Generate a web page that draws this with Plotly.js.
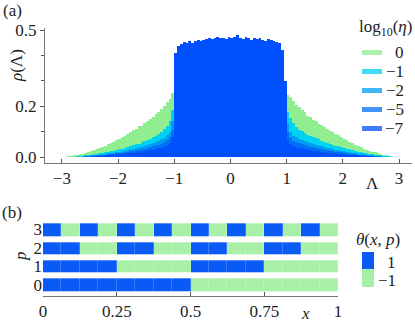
<!DOCTYPE html>
<html>
<head>
<meta charset="utf-8">
<script src="https://cdn.plot.ly/plotly-3.0.1.min.js"></script>
<style>html,body{margin:0;padding:0;background:#fff;}#chart{width:415px;height:323px;}</style>
</head>
<body>
<div id="chart"></div>
<script>
// ---------- Panel (a): histograms of rho(Lambda) ----------
const lambdaStart = -3.0;
const binWidth = 0.05;
const logEta = ['0', '\u22121', '\u22122', '\u22125', '\u22127'];
const etaColors = ['#90ee90', '#00d2f2', '#009cf5', '#0070f5', '#0050ff'];

const rhoEta0 = [
  0.001,0.002,0.003,0.004,0.006,0.008,0.010,0.013,0.016,0.019,0.023,0.027,0.030,0.035,0.039,0.044,
  0.050,0.057,0.058,0.066,0.070,0.078,0.083,0.092,0.098,0.108,0.110,0.121,0.124,0.134,0.141,0.151,0.158,0.170,0.177,0.191,0.199,0.215,0.229,0.252,
  0.28,0.30,0.31,0.30,0.32,0.31,0.30,0.31,0.32,0.30, 0.31,0.31,0.32,0.30,0.31,0.32,0.31,0.30,0.31,0.32,
  0.31,0.30,0.32,0.31,0.31,0.30,0.32,0.31,0.30,0.31, 0.32,0.31,0.30,0.31,0.31,0.30,0.32,0.30,0.29,0.27,
  0.245,0.236,0.221,0.205,0.196,0.184,0.176,0.163,0.158,0.147, 0.140,0.131,0.127,0.118,0.112,0.103,0.098,0.090,0.085,0.079,
  0.072,0.066,0.060,0.054,0.049,0.043,0.039,0.033,0.029,0.025, 0.021,0.018,0.014,0.011,0.009,0.007,0.005,0.003,0.002,0.001
];
const rhoEtaM1 = [
  0,0,0.001,0.001,0.002,0.003,0.004,0.005,0.006,0.008, 0.009,0.011,0.012,0.014,0.016,0.018,0.020,0.022,0.025,0.028,
  0.030,0.033,0.036,0.040,0.043,0.046,0.050,0.053,0.058,0.062, 0.067,0.072,0.078,0.084,0.092,0.100,0.110,0.122,0.140,0.185,
  0.38,0.39,0.40,0.39,0.40,0.41,0.40,0.39,0.40,0.41, 0.40,0.40,0.41,0.39,0.40,0.41,0.40,0.40,0.39,0.41,
  0.40,0.41,0.40,0.39,0.40,0.41,0.40,0.40,0.41,0.39, 0.40,0.40,0.41,0.40,0.39,0.40,0.41,0.39,0.38,0.28,
  0.178,0.152,0.132,0.118,0.108,0.101,0.095,0.088,0.083,0.078, 0.074,0.070,0.065,0.061,0.057,0.053,0.049,0.045,0.042,0.039,
  0.036,0.033,0.030,0.027,0.024,0.021,0.019,0.017,0.015,0.013, 0.011,0.009,0.008,0.006,0.005,0.004,0.003,0.002,0.001,0.001
];
const rhoEtaM2 = [
  0,0,0,0.001,0.001,0.002,0.002,0.003,0.004,0.005, 0.006,0.007,0.008,0.009,0.011,0.012,0.014,0.015,0.017,0.019,
  0.021,0.023,0.025,0.028,0.030,0.033,0.035,0.038,0.041,0.044, 0.047,0.051,0.055,0.059,0.064,0.069,0.076,0.085,0.100,0.140,
  0.40,0.42,0.43,0.42,0.43,0.43,0.42,0.43,0.44,0.43, 0.43,0.44,0.43,0.43,0.44,0.43,0.42,0.43,0.44,0.43,
  0.43,0.44,0.43,0.43,0.42,0.43,0.44,0.43,0.43,0.42, 0.43,0.44,0.43,0.43,0.42,0.43,0.42,0.42,0.40,0.29,
  0.130,0.098,0.084,0.077,0.071,0.066,0.062,0.058,0.054,0.051, 0.048,0.045,0.042,0.039,0.036,0.034,0.031,0.029,0.027,0.024,
  0.022,0.020,0.018,0.016,0.014,0.013,0.011,0.010,0.008,0.007, 0.006,0.005,0.004,0.003,0.002,0.002,0.001,0.001,0,0
];
const rhoEtaM5 = [
  0,0,0,0,0.001,0.001,0.002,0.002,0.003,0.003, 0.004,0.005,0.006,0.007,0.008,0.009,0.010,0.011,0.013,0.014,
  0.016,0.017,0.019,0.021,0.023,0.025,0.027,0.029,0.031,0.033, 0.036,0.039,0.042,0.045,0.049,0.053,0.058,0.066,0.078,0.105,
  0.405,0.43,0.44,0.44,0.44,0.45,0.44,0.45,0.45,0.44, 0.45,0.45,0.46,0.45,0.45,0.46,0.45,0.45,0.45,0.46,
  0.45,0.46,0.46,0.45,0.45,0.46,0.45,0.45,0.46,0.45, 0.45,0.45,0.44,0.45,0.45,0.44,0.44,0.44,0.41,0.295,
  0.098,0.074,0.064,0.058,0.054,0.050,0.047,0.044,0.041,0.038, 0.036,0.033,0.031,0.029,0.027,0.025,0.023,0.021,0.019,0.018,
  0.016,0.014,0.013,0.012,0.010,0.009,0.008,0.007,0.006,0.005, 0.004,0.003,0.003,0.002,0.001,0.001,0.001,0,0,0
];
const rhoEtaM7 = [
  0,0,0,0,0,0.001,0.001,0.001,0.002,0.002, 0.003,0.003,0.004,0.005,0.005,0.006,0.007,0.008,0.009,0.010,
  0.011,0.012,0.013,0.014,0.016,0.017,0.018,0.020,0.021,0.023, 0.025,0.027,0.029,0.031,0.034,0.037,0.041,0.046,0.055,0.080,
  0.410,0.438,0.445,0.452,0.448,0.455,0.450,0.458,0.462,0.455, 0.460,0.466,0.470,0.464,0.468,0.472,0.467,0.470,0.465,0.471,
  0.468,0.474,0.482,0.470,0.466,0.472,0.468,0.462,0.470,0.464, 0.468,0.462,0.458,0.465,0.460,0.455,0.452,0.448,0.420,0.300,
  0.068,0.050,0.044,0.040,0.037,0.034,0.032,0.029,0.027,0.025, 0.023,0.022,0.020,0.018,0.017,0.015,0.014,0.013,0.012,0.011,
  0.010,0.009,0.008,0.007,0.006,0.006,0.005,0.004,0.004,0.003, 0.003,0.002,0.002,0.001,0.001,0.001,0,0,0,0
];
const rhoSeries = [rhoEta0, rhoEtaM1, rhoEtaM2, rhoEtaM5, rhoEtaM7];

// ---------- Panel (b): theta(x, p) ----------
const pRows = [0, 1, 2, 3];
const nCells = 16;
const thetaP0 = [1,1,1,1,1,1,1,1,-1,-1,-1,-1,-1,-1,-1,-1];
const thetaP1 = [1,1,1,1,-1,-1,-1,-1,1,1,1,1,-1,-1,-1,-1];
const thetaP2 = [1,1,-1,-1,1,1,-1,-1,1,1,-1,-1,1,1,-1,-1];
const thetaP3 = [1,-1,1,-1,1,-1,1,-1,1,-1,1,-1,1,-1,1,-1];
const thetaColors = {plus: '#0a5af5', minus: '#a8f0a8'};
const xTickVals = [0, 0.25, 0.5, 0.75, 1];
const xTickText = ['0', '0.25', '0.5', '0.75', '1'];

// ---------- build ----------
const W = 415, H = 323;
const px = v => v / W;
const py = v => 1 - v / H;

const lambdaCenters = rhoEta0.map((_, i) => lambdaStart + binWidth * (i + 0.5));

const traces = rhoSeries.map((vals, k) => ({
  type: 'bar', x: lambdaCenters, y: vals, width: binWidth,
  marker: {color: etaColors[k], line: {width: 0}},
  xaxis: 'x', yaxis: 'y', showlegend: false, hoverinfo: 'skip'
}));

const xCells = thetaP0.map((_, k) => (k + 0.5) / nCells);
traces.push({
  type: 'heatmap', x: xCells, y: pRows, z: [thetaP0, thetaP1, thetaP2, thetaP3],
  zmin: -1, zmax: 1, xgap: 0.2, ygap: 6,
  colorscale: [[0, thetaColors.minus], [0.5, thetaColors.minus], [0.5, thetaColors.plus], [1, thetaColors.plus]],
  xaxis: 'x2', yaxis: 'y2', hoverinfo: 'skip',
  colorbar: {
    x: px(362), xanchor: 'left', y: py(269.5), yanchor: 'middle',
    thickness: 12, len: 35, lenmode: 'pixels', outlinewidth: 0,
    xpad: 0, ypad: 0, showticklabels: false, ticks: ''
  }
});

const font = {family: 'Liberation Serif', size: 17, color: '#222'};
const ann = (text, x, y, extra) => Object.assign({
  text, x: px(x), y: py(y), xref: 'paper', yref: 'paper', showarrow: false,
  xanchor: 'center', yanchor: 'middle', font
}, extra || {});

const annotations = [
  ann('(a)', 12, 11),
  ann('(b)', 12, 212),
  ann('<i>ρ</i>(Λ)', 16, 66, {textangle: -90}),
  ann('Λ', 372, 183),
  ann('<i>p</i>', 20, 256, {textangle: -90}),
  ann('<i>x</i>', 305, 313),
  ann('<i>θ</i>(<i>x</i>, <i>p</i>)', 378, 239),
  ann('1', 398, 262, {xanchor: 'right'}),
  ann('\u22121', 398, 280, {xanchor: 'right'}),
  ann('log<sub>10</sub>(<i>η</i>)', 385, 28)
];
const shapes = [];
const legendY = [52.5, 71.5, 90.5, 109.5, 128.5];
logEta.forEach((lab, k) => {
  shapes.push({type: 'rect', xref: 'paper', yref: 'paper',
    x0: px(362), x1: px(382), y0: py(legendY[k] - 2.5), y1: py(legendY[k] + 2.5),
    fillcolor: etaColors[k], opacity: 0.75, line: {width: 0}});
  annotations.push(ann(lab, 406, legendY[k], {xanchor: 'right'}));
});

const layout = {
  width: W, height: H, margin: {l: 0, r: 0, t: 0, b: 0},
  paper_bgcolor: '#fff', plot_bgcolor: 'rgba(0,0,0,0)', font,
  barmode: 'overlay', bargap: 0, bargroupgap: 0, showlegend: false,
  xaxis: {
    domain: [px(45), px(412)], range: [-3.30, 3.23], anchor: 'y',
    showline: true, linecolor: '#777', linewidth: 1, zeroline: false, showgrid: false,
    ticks: 'inside', ticklen: 4, tickcolor: '#555', tickvals: [-3, -2, -1, 0, 1, 2, 3], tickfont: font
  },
  yaxis: {
    domain: [py(163), py(28)], range: [-0.0236, 0.508], anchor: 'x',
    showline: true, linecolor: '#777', linewidth: 1, zeroline: false, showgrid: false,
    ticks: 'outside', ticklen: 4, tickcolor: '#555', tickvals: [0, 0.2, 0.5], ticktext: ['0.0', '0.2', '0.5'],
    minor: {tickmode: 'array', tickvals: [0.1, 0.3, 0.4], ticks: 'outside', ticklen: 3, tickcolor: '#555'},
    tickfont: font
  },
  xaxis2: {
    domain: [px(43), px(338)], range: [0, 1], anchor: 'y2',
    showline: true, linecolor: '#777', linewidth: 1, zeroline: false, showgrid: false,
    ticks: 'inside', ticklen: 4, tickcolor: '#555', tickvals: xTickVals, ticktext: xTickText, tickfont: font
  },
  yaxis2: {
    domain: [py(296), py(221)], range: [-0.595, 3.46], anchor: 'x2',
    showline: false, zeroline: false, showgrid: false, ticks: '', tickvals: pRows, tickfont: font
  },
  annotations, shapes
};

Plotly.newPlot('chart', traces, layout, {staticPlot: true, displayModeBar: false});
</script>
</body>
</html>
